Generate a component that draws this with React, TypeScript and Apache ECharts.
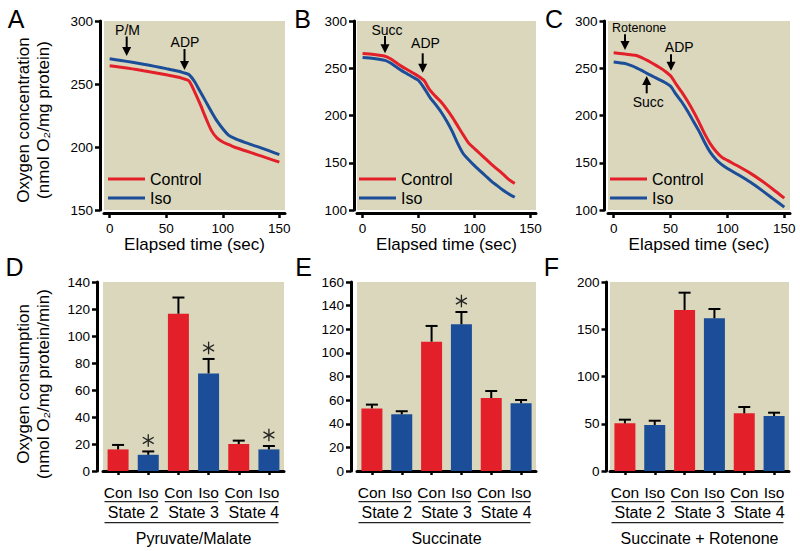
import React, { useEffect, useRef } from 'react';
import * as echarts from 'echarts';

const FONT = '"Liberation Sans", Arial, Helvetica, sans-serif';
const RED = '#E3202A';
const BLUE = '#1B4D99';
const BG = '#DAD7BC';

// ---- Panel A (pyruvate/malate trace) ----
const timeA = [0, 10, 20, 30, 40, 50, 60, 65, 70, 75, 80, 85, 90, 95, 100, 105, 110, 120, 130, 140, 150];
const controlA = [264.5, 263.3, 262, 260.5, 259, 257.3, 255.5, 254.3, 252.5, 244, 234, 223, 213, 207, 204, 202, 200, 197, 194, 191, 188];
const isoA = [270, 268.7, 267.2, 265.6, 264, 262.2, 260.3, 259, 257.5, 252, 244, 236, 228, 220.5, 214.5, 209.5, 207, 203.5, 200.5, 197.3, 194];

// ---- Panel B (succinate trace) ----
const timeB = [0, 10, 20, 25, 30, 35, 40, 45, 50, 55, 60, 65, 70, 75, 80, 85, 90, 95, 100, 105, 110, 115, 120, 125, 130, 136];
const controlB = [265.5, 264.5, 262.7, 260, 256, 252, 248.5, 245, 241.5, 237, 227, 220.5, 214.5, 207, 198.5, 189, 179.5, 170.5, 165, 159.5, 154, 148.5, 143.5, 138.5, 133, 128];
const isoB = [261.3, 260.3, 258.3, 255.5, 251.5, 247.5, 244, 240.5, 237, 229, 219.5, 212, 204, 194.5, 183.5, 170.5, 159.5, 153, 147, 141.5, 136, 130.5, 126, 121.5, 117.5, 113.5];

// ---- Panel C (succinate + rotenone trace) ----
const timeC = [0, 10, 15, 20, 25, 30, 35, 40, 45, 50, 55, 60, 65, 70, 75, 80, 85, 90, 95, 100, 110, 120, 130, 140, 150];
const controlC = [266.5, 265, 264.3, 263.5, 261, 258, 254.5, 251, 247, 242, 233, 224.5, 215, 204.5, 193, 180.5, 170, 162, 156, 152.5, 146, 139, 131, 122, 112.5];
const isoC = [256.7, 255, 253, 250.5, 247.5, 244, 241, 238, 235, 231, 222, 214, 204.5, 194, 183.5, 171.5, 161, 153.5, 148, 144, 137, 129.5, 121, 112, 103];

const timeTicks = [0, 50, 100, 150];

// ---- Bar panels ----
const barCats = ['Con', 'Iso', 'Con', 'Iso', 'Con', 'Iso'];
const stateLabels = ['State 2', 'State 3', 'State 4'];
const substrates = ['Pyruvate/Malate', 'Succinate', 'Succinate + Rotenone'];

const meanD = [16, 12, 116.5, 72.3, 20, 16];
const semD = [3.3, 2.5, 12, 10.7, 2.5, 2.5];
const sigD = [0, 1, 0, 1, 0, 1];

const meanE = [53, 48, 109.5, 124.2, 61.8, 57.3];
const semE = [3.2, 2.6, 13.3, 10.4, 5.9, 2.8];
const sigE = [0, 0, 0, 1, 0, 0];

const meanF = [50.4, 48.7, 170.4, 161.6, 61, 58.2];
const semF = [3.9, 4.5, 18.3, 9.8, 6.7, 3.5];
const sigF = [0, 0, 0, 0, 0, 0];

// ---- layout ----
const lineGrids = [
  { left: 104, top: 21, width: 181, height: 189, yOff: 4 },
  { left: 357, top: 21, width: 179, height: 189, yOff: 3 },
  { left: 608, top: 21, width: 182, height: 189, yOff: 3.5 },
];
const barGrids = [
  { left: 103, top: 282, width: 181, height: 189, yOff: 6 },
  { left: 357, top: 282, width: 179, height: 189, yOff: 6 },
  { left: 610, top: 282, width: 179, height: 189, yOff: 3.5 },
];
const lineY = [
  { min: 150, max: 300, interval: 50 },
  { min: 100, max: 300, interval: 50 },
  { min: 100, max: 300, interval: 50 },
];
const barY = [
  { min: 0, max: 140, interval: 20 },
  { min: 0, max: 160, interval: 20 },
  { min: 0, max: 200, interval: 50 },
];

const axisLineStyle = { color: '#000', width: 3 };
const tickStyle = { color: '#000', width: 2.5 };

function pairs(t: number[], v: number[]) {
  return t.map((x, i) => [x, v[i]]);
}

function arrow(x: number, yTail: number, yTip: number) {
  const dir = yTip > yTail ? 1 : -1;
  return [
    { type: 'line', shape: { x1: x, y1: yTail, x2: x, y2: yTip - dir * 6 }, style: { stroke: '#000', lineWidth: 2 } },
    {
      type: 'polygon',
      shape: { points: [[x - 4.5, yTip - dir * 9], [x + 4.5, yTip - dir * 9], [x, yTip]] },
      style: { fill: '#000' },
    },
  ];
}

function label(text: string, x: number, y: number, size = 14) {
  return {
    type: 'text',
    x,
    y,
    style: {
      text,
      fill: '#000',
      fontSize: size,
      fontFamily: FONT,
      align: 'center',
      verticalAlign: 'middle',
      textAlign: 'center',
      textVerticalAlign: 'middle',
    },
  };
}

function buildOption() {
  const grid = [...lineGrids, ...barGrids].map((g) => ({
    left: g.left,
    top: g.top,
    width: g.width,
    height: g.height,
    show: true,
    backgroundColor: BG,
    borderWidth: 0,
    containLabel: false,
  }));

  const xAxis: any[] = [];
  lineGrids.forEach((_, i) => {
    xAxis.push({
      type: 'value',
      gridIndex: i,
      min: -5,
      max: 155,
      offset: 3,
      axisLine: { show: true, onZero: false, lineStyle: axisLineStyle },
      axisTick: { show: true, customValues: timeTicks, length: 5, lineStyle: tickStyle },
      axisLabel: { customValues: timeTicks, fontSize: 13.5, margin: 8, color: '#000', fontFamily: FONT },
      splitLine: { show: false },
      name: 'Elapsed time (sec)',
      nameLocation: 'middle',
      nameGap: 21,
      nameTextStyle: { fontSize: 17, color: '#000', fontFamily: FONT },
    });
  });
  barGrids.forEach((_, k) => {
    xAxis.push({
      type: 'category',
      gridIndex: 3 + k,
      data: barCats,
      offset: 3,
      axisLine: { show: true, lineStyle: axisLineStyle },
      axisTick: { show: true, alignWithLabel: true, length: 4, lineStyle: tickStyle },
      axisLabel: { fontSize: 15.5, margin: 10, color: '#000', fontFamily: FONT, interval: 0 },
      splitLine: { show: false },
    });
  });
  barGrids.forEach((_, k) => {
    xAxis.push({
      type: 'category',
      gridIndex: 3 + k,
      data: stateLabels,
      position: 'bottom',
      offset: 3,
      axisLine: { show: false },
      axisTick: { show: false },
      axisLabel: { fontSize: 16, margin: 30, color: '#000', fontFamily: FONT, interval: 0 },
      splitLine: { show: false },
      name: substrates[k],
      nameLocation: 'middle',
      nameGap: 56,
      nameTextStyle: { fontSize: 16, color: '#000', fontFamily: FONT },
    });
  });

  const yAxis: any[] = [];
  [...lineY, ...barY].forEach((y, i) => {
    const g = i < 3 ? lineGrids[i] : barGrids[i - 3];
    yAxis.push({
      type: 'value',
      gridIndex: i,
      min: y.min,
      max: y.max,
      interval: y.interval,
      offset: g.yOff,
      axisLine: { show: true, onZero: false, lineStyle: axisLineStyle },
      axisTick: { show: true, length: 5, lineStyle: tickStyle },
      axisLabel: { fontSize: 13.5, margin: 7, color: '#000', fontFamily: FONT },
      splitLine: { show: false },
    });
  });

  const series: any[] = [];
  const traces = [
    [timeA, controlA, isoA],
    [timeB, controlB, isoB],
    [timeC, controlC, isoC],
  ];
  traces.forEach(([t, c, iso], i) => {
    series.push({
      type: 'line',
      name: 'Control',
      xAxisIndex: i,
      yAxisIndex: i,
      data: pairs(t, c),
      showSymbol: false,
      smooth: 0.25,
      color: RED,
      lineStyle: { color: RED, width: 3 },
      z: 3,
    });
    series.push({
      type: 'line',
      name: 'Iso',
      xAxisIndex: i,
      yAxisIndex: i,
      data: pairs(t, iso),
      showSymbol: false,
      smooth: 0.25,
      color: BLUE,
      lineStyle: { color: BLUE, width: 3 },
      z: 3,
    });
  });

  const bars = [
    [meanD, semD, sigD],
    [meanE, semE, sigE],
    [meanF, semF, sigF],
  ];
  bars.forEach(([m, s, sig], k) => {
    series.push({
      type: 'bar',
      name: 'bars' + k,
      xAxisIndex: 3 + k,
      yAxisIndex: 3 + k,
      barWidth: 21,
      data: m.map((v, i) => ({ value: v, itemStyle: { color: i % 2 ? BLUE : RED } })),
    });
    series.push({
      type: 'custom',
      name: 'err' + k,
      xAxisIndex: 3 + k,
      yAxisIndex: 3 + k,
      data: m.map((v, i) => [i, v, s[i], sig[i]]),
      z: 5,
      renderItem: (params: any, api: any) => {
        const i = api.value(0);
        const mv = api.value(1);
        const e = api.value(2);
        const star = api.value(3);
        const p0 = api.coord([i, mv]);
        const p1 = api.coord([i, mv + e]);
        const children: any[] = [
          { type: 'line', shape: { x1: p0[0], y1: p0[1], x2: p1[0], y2: p1[1] }, style: { stroke: '#000', lineWidth: 2 } },
          { type: 'line', shape: { x1: p1[0] - 6, y1: p1[1], x2: p1[0] + 6, y2: p1[1] }, style: { stroke: '#000', lineWidth: 2 } },
        ];
        if (star) {
          const cx = p1[0];
          const cy = p1[1] - 11;
          const r = 6.3;
          [90, 30, 150].forEach((a) => {
            const rad = (a * Math.PI) / 180;
            children.push({
              type: 'line',
              shape: { x1: cx - r * Math.cos(rad), y1: cy - r * Math.sin(rad), x2: cx + r * Math.cos(rad), y2: cy + r * Math.sin(rad) },
              style: { stroke: '#222', lineWidth: 1.3 },
            });
          });
        }
        return { type: 'group', children };
      },
    });
  });

  const legend = lineGrids.map((g, i) => ({
    data: ['Control', 'Iso'],
    left: [108, 359, 610][i],
    top: 170,
    orient: 'vertical',
    icon: 'rect',
    itemWidth: 37,
    itemHeight: 3,
    itemGap: 1,
    padding: 0,
    selectedMode: false,
    textStyle: { fontSize: 16, color: '#000', fontFamily: FONT, lineHeight: 18 },
  }));

  const graphic: any[] = [];
  // panel letters
  const letters: [string, number, number][] = [
    ['A', 16, 18.5], ['B', 302.5, 18.5], ['C', 554, 18.5],
    ['D', 14.5, 267], ['E', 303.5, 267], ['F', 551.5, 267],
  ];
  letters.forEach(([t, x, y]) => graphic.push(label(t, x, y, 25)));

  // y-axis titles
  const yTitles: [string, number][] = [
    ['Oxygen concentration\n(nmol O\u2082/mg protein)', 120],
    ['Oxygen consumption\n(nmol O\u2082/mg protein/min)', 384],
  ];
  yTitles.forEach(([t, y]) => {
    graphic.push({
      type: 'text',
      x: 33,
      y,
      rotation: Math.PI / 2,
      style: {
        text: t,
        fill: '#000',
        fontSize: 17,
        fontFamily: FONT,
        lineHeight: 20,
        align: 'center',
        verticalAlign: 'middle',
        textAlign: 'center',
        textVerticalAlign: 'middle',
      },
    });
  });

  // addition arrows
  graphic.push(label('P/M', 127.5, 30));
  graphic.push(...arrow(126.7, 36.5, 56));
  graphic.push(label('ADP', 185, 41.5));
  graphic.push(...arrow(184.5, 49, 70));

  graphic.push(label('Succ', 387, 29.5));
  graphic.push(...arrow(385, 36, 53.3));
  graphic.push(label('ADP', 425.5, 43));
  graphic.push(...arrow(422.7, 53.3, 72.7));

  graphic.push(label('Rotenone', 639.2, 27.7, 12.5));
  graphic.push(...arrow(625, 34.3, 50));
  graphic.push(label('ADP', 679.2, 47));
  graphic.push(...arrow(671, 54.3, 70.7));
  graphic.push(...arrow(646.7, 93.3, 76));
  graphic.push(label('Succ', 648.3, 101.7));

  // group underlines for bar panels
  barGrids.forEach((g) => {
    const cw = g.width / 6;
    for (let k = 0; k < 3; k++) {
      const x1 = g.left + 2 * k * cw + 1.5;
      const x2 = g.left + (2 * k + 2) * cw - 5.5;
      graphic.push({ type: 'line', shape: { x1, y1: 501.7, x2, y2: 501.7 }, style: { stroke: '#222', lineWidth: 1.2 } });
    }
    graphic.push({
      type: 'line',
      shape: { x1: g.left + 1.5, y1: 522.7, x2: g.left + g.width - 5.5, y2: 522.7 },
      style: { stroke: '#222', lineWidth: 1.2 },
    });
  });

  return {
    animation: false,
    backgroundColor: '#fff',
    textStyle: { fontFamily: FONT },
    grid,
    xAxis,
    yAxis,
    legend,
    series,
    graphic,
  };
}

export default function App() {
  const ref = useRef<HTMLDivElement>(null);
  useEffect(() => {
    if (!ref.current) return;
    const chart = echarts.init(ref.current, null, { renderer: 'svg' });
    chart.setOption(buildOption() as any);
    return () => chart.dispose();
  }, []);
  return (
    <div
      ref={ref}
      style={{ position: 'fixed', left: 0, top: 0, width: 800, height: 551, background: '#fff' }}
    />
  );
}
